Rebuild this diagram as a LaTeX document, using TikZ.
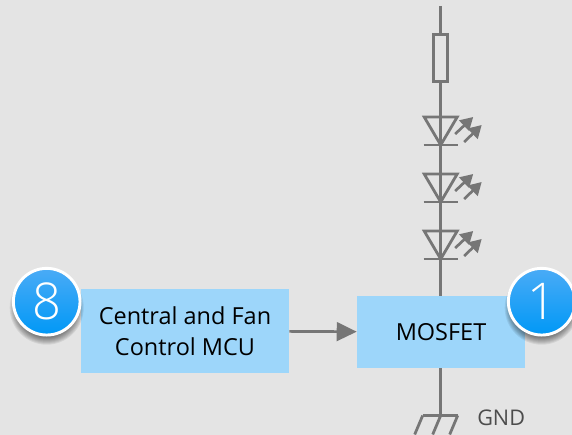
\documentclass[tikz,border=0pt]{standalone}
\usepackage{fontspec}
\setmainfont{Open Sans}
\newfontface\badgefont{Open Sans Light}
\usepackage{xcolor}
\usepackage{tikz}
\usetikzlibrary{calc}
\usetikzlibrary{arrows.meta}

\definecolor{panel}{HTML}{E4E4E4}
\definecolor{wire}{HTML}{767676}
\definecolor{blockblue}{HTML}{9DD6FA}
\definecolor{badgetop}{HTML}{4AABF6}
\definecolor{badgebottom}{HTML}{0098F6}

\begin{document}
\begin{tikzpicture}[x=0.75pt,y=-0.75pt]
    \tikzstyle{wire}=[line width=2.6pt,color=wire]
    \tikzstyle{thin wire}=[line width=2.1pt,color=wire]
    \tikzstyle{signal}=[-{Triangle[length=15pt,width=14pt]},line width=2pt,color=wire]
    \tikzstyle{light}=[-{Triangle[length=9.5pt,width=10.5pt]},line width=2pt,color=wire]
    \tikzstyle{block}=[fill=blockblue,align=center,font=\fontsize{17.6}{23}\selectfont,inner sep=0pt,minimum height=54pt]
    \tikzstyle{badge}=[circle,draw=white,line width=2.2pt,top color=badgetop,bottom color=badgebottom,minimum size=50pt,inner sep=0pt,text=white,font=\badgefont\fontsize{38}{38}\selectfont]

    \fill[panel] (0,0) rectangle (572,435);
    \useasboundingbox (0,0) rectangle (572,435);

    \coordinate (rail) at (440.7,0);
    \coordinate (badge_8) at (46.7,301.7);
    \coordinate (badge_1) at (541.7,301.7);

    % Blocks
    \node[style=block,minimum width=156pt,minimum height=63pt] (mcu) at (185,331) {Central and Fan\\Control MCU};
    \node[style=block,minimum width=126pt] (mosfet) at (441,332) {MOSFET};

    % Resistor and supply
    \coordinate (supply) at ($(rail)+(0,6)$);
    \node[draw=wire,line width=2.1pt,minimum width=10.5pt,minimum height=35pt,inner sep=0pt] (resistor) at ($(rail)+(0,58)$) {};
    \draw[style=wire] (supply) -- (resistor);

    % LEDs
    \foreach \n/\y in {1/117,2/174,3/231} {
        \coordinate (led_\n_top) at ($(rail)+(0,\y)$);
        \coordinate (led_\n_bot) at ($(led_\n_top)+(0,28)$);
        \draw[style=thin wire,line join=miter] ($(led_\n_top)+(-16.5,0)$) -- ($(led_\n_top)+(16.5,0)$) -- (led_\n_bot) -- cycle;
        \draw[style=thin wire] ($(led_\n_bot)+(-17,0)$) -- ($(led_\n_bot)+(17,0)$);
        \draw[style=light] ($(led_\n_top)+(14.5,17)$) -- ($(led_\n_top)+(32.5,0)$);
        \draw[style=light] ($(led_\n_top)+(23.5,25)$) -- ($(led_\n_top)+(41,8)$);
    }
    \draw[style=wire] (resistor.south) -- (led_1_bot);
    \draw[style=wire] (led_1_bot) -- (led_2_bot);
    \draw[style=wire] (led_2_bot) -- (led_3_bot);
    \draw[style=wire] (led_3_bot) -- (led_3_bot |- mosfet.north);

    % Ground
    \coordinate (gnd) at ($(rail)+(0,415.5)$);
    \draw[style=wire] (gnd |- mosfet.south) -- (gnd);
    \draw[style=thin wire] ($(gnd)+(-18,0)$) -- ($(gnd)+(17,0)$);
    \foreach \dx in {-18,0,17} {
        \draw[style=thin wire] ($(gnd)+(\dx,0)$) -- ($(gnd)+(\dx-8,19)$);
    }
    \node[text=black!70,font=\fontsize{16.2}{18}\selectfont,anchor=west,inner sep=0pt] (gndlabel) at (477,418) {GND};

    % Signal
    \draw[style=signal] (mcu) -- (mosfet);

    % Badges
    \foreach \b in {badge_8,badge_1} {
        \foreach \r in {37,36,35,34,33,32,31,30} {
            \fill[black,opacity=0.07] ($(\b)+(0,6)$) circle[radius=\r*0.75pt];
        }
    }
    \node[style=badge] (eight) at (badge_8) {8};
    \node[style=badge] (one) at (badge_1) {1};
\end{tikzpicture}
\end{document}
